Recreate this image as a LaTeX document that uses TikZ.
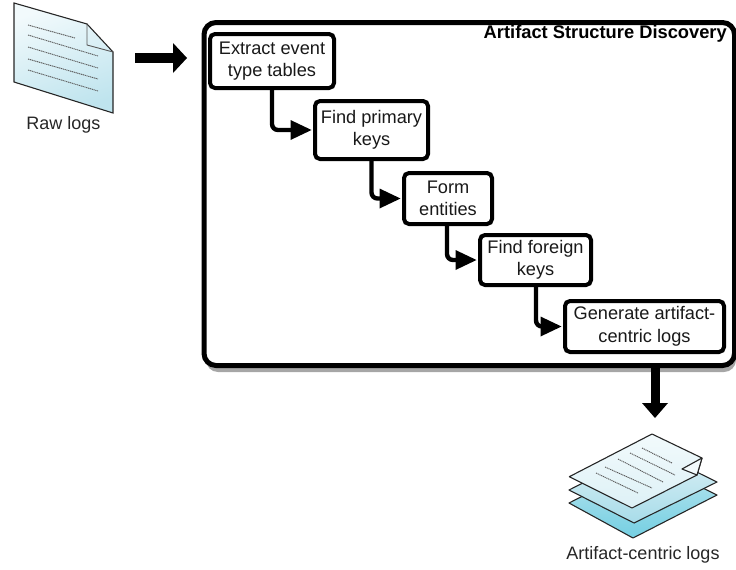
\documentclass[tikz,border=0pt]{standalone}
\usepackage{fontspec}
\setmainfont{Liberation Sans}
\usetikzlibrary{calc}
\definecolor{pageA}{HTML}{F2FAFC}
\definecolor{pageB}{HTML}{BFE4EE}
\definecolor{midA}{HTML}{DDF1F6}
\definecolor{midB}{HTML}{A8DCE9}
\definecolor{lowA}{HTML}{BDE6F0}
\definecolor{lowB}{HTML}{74CFE2}
\tikzset{
 stepbox/.style={draw=black,line width=4pt,rounded corners=5pt,fill=white,align=center,inner sep=0pt,font=\fontsize{18.2}{22.5}\selectfont,text=black!90},
 flow/.style={line width=4.4pt,rounded corners=6pt},
 sheet/.style={draw=black!85,line width=1.1pt,line join=round},
 txtlines/.style={black!65,line width=.9pt,dash pattern=on 1.2pt off .7pt},
 caption/.style={font=\fontsize{18}{21}\selectfont,text=black!85,inner sep=0pt}
}
\begin{document}
\begin{tikzpicture}[x=1pt,y=-1pt]
\useasboundingbox (0,0) rectangle (736,570);
% shadow + main box
\fill[black!35,rounded corners=12pt] (206,25) rectangle (736,372);
\node[draw=black,line width=5pt,rounded corners=12pt,fill=white,minimum width=530.5pt,minimum height=343pt,inner sep=0pt,anchor=north west] (main) at (201.5,20) {};
\node[anchor=north east,inner sep=0pt,font=\fontsize{18.3}{22}\selectfont\bfseries] (title) at (727,25) {Artifact Structure Discovery};
% step boxes
\node[stepbox,minimum width=124pt,minimum height=54pt] (s1) at (272,61) {Extract event\\type tables};
\node[stepbox,minimum width=113pt,minimum height=58pt] (s2) at (371.5,130) {Find primary\\keys};
\node[stepbox,minimum width=88pt,minimum height=51pt] (s3) at (448,198.5) {Form\\entities};
\node[stepbox,minimum width=111pt,minimum height=50pt] (s4) at (535.5,260) {Find foreign\\keys};
\node[stepbox,minimum width=159pt,minimum height=51pt] (s5) at (644.5,326.5) {Generate artifact-\\centric logs};
% connectors
\foreach \a/\b/\x/\y in {s1/s2/272/130,s2/s3/371.5/198.5,s3/s4/447/260,s4/s5/536/326.5}{
  \coordinate (c) at (\x,\y);
  \draw[flow] (\a.south -| c) -- (c) -- ($(\b.west)+(-16,0)$);
  \fill ($(\b.west)+(-1.5,0)$) -- ++(-21,-10) -- ++(0,20) -- cycle;
}
% raw log document
\coordinate (d1) at (14,3); \coordinate (d2) at (87,24); \coordinate (d3) at (113,52);
\coordinate (d4) at (113,113); \coordinate (d5) at (14,82);
\shade[left color=pageA,right color=pageB,shading angle=20,draw=black!85,line width=1.1pt]
  (d1) -- (d2) -- (d3) -- (d4) -- (d5) -- cycle;
\draw[black!65,line width=.9pt] (d2) -- (87,45) -- (d3);
\draw[txtlines] (28,25) -- (75,38) (28,35) -- (98,56) (28,47) -- (98,68) (28,59) -- (98,79) (28,70) -- (98,91);
\node[caption] (rawcap) at (63.5,125) {Raw logs};
% input arrow
\coordinate (inA) at (135,58);
\draw[line width=10pt] (inA) -- (175,58);
\fill (187,58) -- (173,43) -- (173,73) -- cycle;
% output arrow
\coordinate (outB) at (655,366);
\draw[line width=9pt] (outB) -- (655,405);
\fill (655,418) -- (642,403) -- (668,403) -- cycle;
% stack of logs
\shade[top color=lowA,bottom color=lowB,sheet]
  (569,503) -- (650,462) -- (717,495) -- (633,538) -- cycle;
\shade[top color=midA,bottom color=midB,sheet]
  (569,490) -- (650,449) -- (717,482) -- (634,523) -- cycle;
\shade[top color=pageA,bottom color=midA,sheet]
  (569.3,476.7) -- (652,434) -- (702,458) -- (697,475) -- (632,508) -- cycle;
\fill[pageA,draw=black!85,line width=1.1pt,line join=round] (682,469) -- (702,458) -- (697,475) -- cycle;
\draw[txtlines] (596,473) -- (638,493) (605,467) -- (652,488) (618,459) -- (663,482) (630,453) -- (675,475) (642,448) -- (672,463);
\node[caption] (artcap) at (643,555) {Artifact-centric logs};
\end{tikzpicture}
\end{document}
